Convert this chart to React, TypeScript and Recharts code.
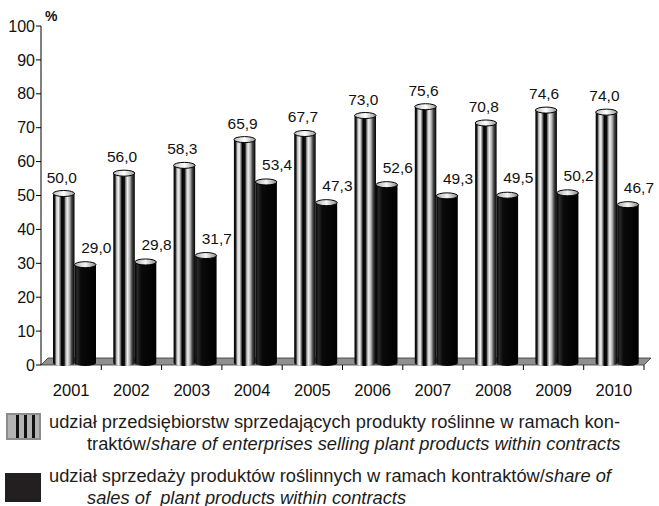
import React from 'react';
import { BarChart, Bar, XAxis, YAxis, LabelList } from 'recharts';

const years = ['2001', '2002', '2003', '2004', '2005', '2006', '2007', '2008', '2009', '2010'];
const enterpriseShare = [50.0, 56.0, 58.3, 65.9, 67.7, 73.0, 75.6, 70.8, 74.6, 74.0];
const salesShare = [29.0, 29.8, 31.7, 53.4, 47.3, 52.6, 49.3, 49.5, 50.2, 46.7];
const yTicks = [0, 10, 20, 30, 40, 50, 60, 70, 80, 90, 100];

const data = years.map((year, i) => ({
  year,
  enterprises: enterpriseShare[i],
  sales: salesShare[i],
}));

const FONT = 'Arial, "Liberation Sans", sans-serif';
const W = 659;
const H = 400;
const MARGIN = { top: 26, right: 15, bottom: 0, left: 0 };
const YAXIS_W = 41;
const XAXIS_H = 35;
const PLOT_L = MARGIN.left + YAXIS_W;
const PLOT_R = W - MARGIN.right;
const PLOT_B = H - MARGIN.bottom - XAXIS_H;
const DEPTH = 7;
// bars sit a little behind the front edge of the floor
const SHIFT_X = 3;
const SHIFT_Y = -2;

const fmt = (v: number) => v.toFixed(1).replace('.', ',');

const Cylinder = (props: any) => {
  const { x, y, width, height, kind } = props;
  if (!width || height == null) return null;
  const x0 = x + SHIFT_X;
  const y0 = y + SHIFT_Y;
  const ry = 3;
  const bottom = y0 + height;
  const body = `M${x0},${y0} L${x0},${bottom} A${width / 2},${ry} 0 0 0 ${x0 + width},${bottom} L${x0 + width},${y0} Z`;
  return (
    <g>
      <path d={body} fill={`url(#${kind}Body)`} />
      <ellipse
        cx={x0 + width / 2}
        cy={y0}
        rx={width / 2}
        ry={ry}
        fill={`url(#${kind}Top)`}
        stroke="#000"
        strokeWidth={1}
      />
    </g>
  );
};

const makeLabel = (offsetX: number, offsetY: number) => (props: any) => {
  const { x, y, width, value } = props;
  return (
    <text
      x={x + width / 2 + SHIFT_X + offsetX}
      y={y + offsetY}
      textAnchor="middle"
      fontSize={15.5}
      fontFamily={FONT}
      fill="#111"
    >
      {fmt(value)}
    </text>
  );
};

const Floor = () => {
  const step = (PLOT_R - PLOT_L) / years.length;
  return (
    <g>
      <polygon
        points={`${PLOT_L},${PLOT_B} ${PLOT_R},${PLOT_B} ${PLOT_R + DEPTH},${PLOT_B - DEPTH} ${PLOT_L + DEPTH},${PLOT_B - DEPTH}`}
        fill="#8f8f8f"
        stroke="#333"
        strokeWidth={0.8}
      />
      {years.map((_, i) => (
        <line
          key={i}
          x1={PLOT_L + step * (i + 1)}
          x2={PLOT_L + step * (i + 1)}
          y1={PLOT_B}
          y2={PLOT_B + 5}
          stroke="#000"
        />
      ))}
    </g>
  );
};

const textLine: React.CSSProperties = {
  position: 'absolute',
  whiteSpace: 'pre',
  fontSize: 18.3,
  lineHeight: '21px',
  color: '#1d1d1b',
  fontFamily: FONT,
};

export default function App() {
  return (
    <div style={{ position: 'absolute', left: 0, top: 0, width: W, height: 506, background: '#fff' }}>
      <BarChart width={W} height={H} data={data} margin={MARGIN} barGap={0} barSize={21.5}>
        <defs>
          <linearGradient id="grayBody" x1="0" y1="0" x2="1" y2="0">
            <stop offset="0" stopColor="#000" />
            <stop offset="0.08" stopColor="#1a1a1a" />
            <stop offset="0.16" stopColor="#c8c8c8" />
            <stop offset="0.25" stopColor="#f4f4f4" />
            <stop offset="0.32" stopColor="#8a8a8a" />
            <stop offset="0.40" stopColor="#000" />
            <stop offset="0.52" stopColor="#111" />
            <stop offset="0.58" stopColor="#999" />
            <stop offset="0.66" stopColor="#f0f0f0" />
            <stop offset="0.76" stopColor="#b8b8b8" />
            <stop offset="0.87" stopColor="#444" />
            <stop offset="1" stopColor="#000" />
          </linearGradient>
          <linearGradient id="blackBody" x1="0" y1="0" x2="1" y2="0">
            <stop offset="0" stopColor="#000" />
            <stop offset="0.12" stopColor="#2a2a2a" />
            <stop offset="0.3" stopColor="#0a0a0a" />
            <stop offset="1" stopColor="#000" />
          </linearGradient>
          <linearGradient id="grayTop" x1="0" y1="0" x2="1" y2="0">
            <stop offset="0" stopColor="#bbb" />
            <stop offset="0.5" stopColor="#fff" />
            <stop offset="1" stopColor="#999" />
          </linearGradient>
          <linearGradient id="blackTop" x1="0" y1="0" x2="1" y2="0">
            <stop offset="0" stopColor="#aaa" />
            <stop offset="0.5" stopColor="#f4f4f4" />
            <stop offset="1" stopColor="#888" />
          </linearGradient>
        </defs>
        <Floor />
        <XAxis
          dataKey="year"
          height={XAXIS_H}
          axisLine={false}
          tickLine={false}
          tickMargin={13}
          interval={0}
          tick={{ fontSize: 16.5, fill: '#111', fontFamily: FONT }}
        />
        <YAxis
          width={YAXIS_W}
          domain={[0, 100]}
          ticks={yTicks}
          interval={0}
          tickSize={5}
          tickMargin={1}
          axisLine={{ stroke: '#000' }}
          tickLine={{ stroke: '#000' }}
          tick={{ fontSize: 16, fill: '#111', fontFamily: FONT }}
        />
        <Bar dataKey="enterprises" isAnimationActive={false} shape={(p: any) => <Cylinder {...p} kind="gray" />}>
          <LabelList dataKey="enterprises" content={makeLabel(-2, -13)} />
        </Bar>
        <Bar dataKey="sales" isAnimationActive={false} shape={(p: any) => <Cylinder {...p} kind="black" />}>
          <LabelList dataKey="sales" content={makeLabel(11, -14)} />
        </Bar>
        <text x={45} y={21} fontSize={14} fontWeight="bold" fontFamily={FONT} fill="#111">
          %
        </text>
      </BarChart>

      <div style={{ position: 'absolute', left: 6, top: 413, width: 31, height: 23, background: '#b3b3b3', border: '2px solid #8c8c8c' }}>
        <div style={{ position: 'absolute', left: 8, top: 0, width: 3, height: 23, background: '#111' }} />
        <div style={{ position: 'absolute', left: 16, top: 0, width: 3, height: 23, background: '#111' }} />
        <div style={{ position: 'absolute', left: 24, top: 0, width: 3, height: 23, background: '#111' }} />
      </div>
      <div style={{ ...textLine, left: 49, top: 411 }}>
        udział przedsiębiorstw sprzedających produkty roślinne w ramach kon-
      </div>
      <div style={{ ...textLine, left: 87, top: 432.5 }}>
        traktów/<i>share of enterprises selling plant products within contracts</i>
      </div>

      <div style={{ position: 'absolute', left: 5, top: 473, width: 36, height: 29, background: '#231f20' }} />
      <div style={{ ...textLine, left: 49, top: 465 }}>
        udział sprzedaży produktów roślinnych w ramach kontraktów/<i>share of</i>
      </div>
      <div style={{ ...textLine, left: 87, top: 486.5 }}>
        <i>{'sales of  plant products within contracts'}</i>
      </div>
    </div>
  );
}
